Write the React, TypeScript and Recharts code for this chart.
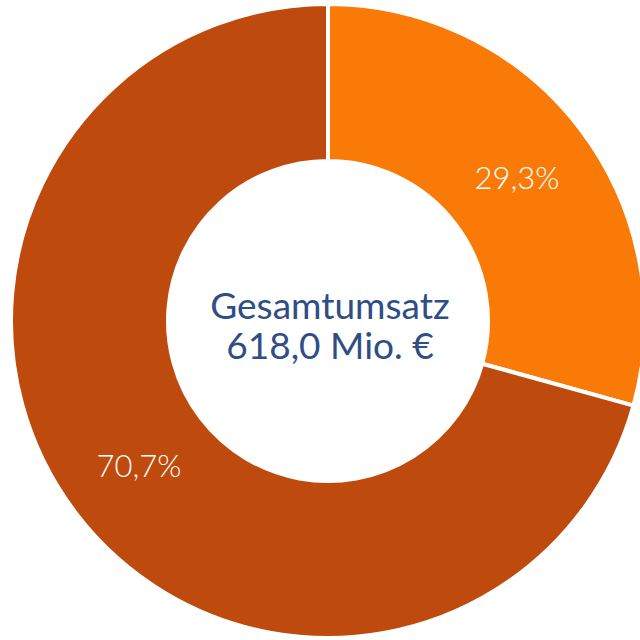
import { PieChart, Pie, Cell } from 'recharts'

const segments = ['Anteil A', 'Anteil B']
const shares = [29.3, 70.7]
const sliceColors = ['#f97a07', '#be4a0e']
const centerLines = ['Gesamtumsatz', '618,0 Mio. €']

const data = segments.map((name, i) => ({ name, value: shares[i] }))

const RADIAN = Math.PI / 180

function renderLabel(props: any) {
  const { cx, cy, midAngle, innerRadius, outerRadius, value } = props
  const r = (innerRadius + outerRadius) / 2 - 1
  const x = cx + r * Math.cos(-midAngle * RADIAN)
  const y = cy + r * Math.sin(-midAngle * RADIAN)
  return (
    <text
      x={x}
      y={y}
      fill="#ffffff"
      textAnchor="middle"
      dominantBaseline="central"
      style={{ fontFamily: 'Lato, sans-serif', fontSize: 31, fontWeight: 300 }}
    >
      {value.toFixed(1).replace('.', ',')}%
    </text>
  )
}

export default function App() {
  return (
    <div style={{ position: 'absolute', left: 0, top: 0, width: 640, height: 640, background: '#fff', overflow: 'hidden' }}>
      <PieChart width={640} height={640} margin={{ top: 0, right: 0, bottom: 0, left: 0 }}>
        <Pie
          data={data}
          dataKey="value"
          nameKey="name"
          cx={328}
          cy={321}
          innerRadius={160}
          outerRadius={317}
          startAngle={90}
          endAngle={-270}
          stroke="#ffffff"
          strokeWidth={4}
          label={renderLabel}
          labelLine={false}
          isAnimationActive={false}
        >
          {data.map((entry, index) => (
            <Cell key={`cell-${index}`} fill={sliceColors[index]} />
          ))}
        </Pie>
      </PieChart>
      <div
        style={{
          position: 'absolute',
          left: 130,
          top: 285,
          width: 400,
          textAlign: 'center',
          fontFamily: 'Lato, sans-serif',
          fontSize: 37,
          lineHeight: '40px',
          color: '#2f4e85',
        }}
      >
        {centerLines.map((line) => (
          <div key={line} style={{ height: 40 }}>{line}</div>
        ))}
      </div>
    </div>
  )
}
